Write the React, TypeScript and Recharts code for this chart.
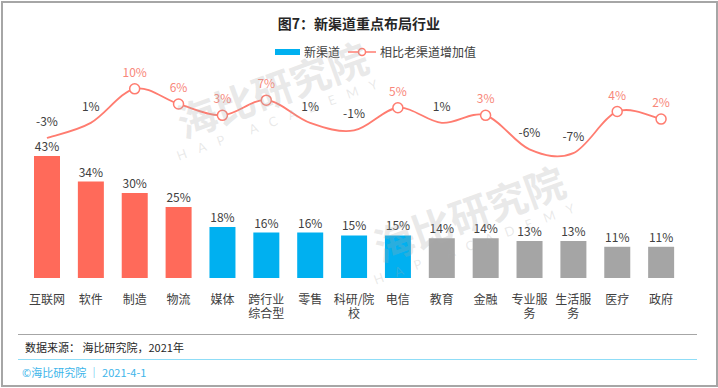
import React from 'react';
import { ComposedChart, Bar, Line, XAxis, YAxis, Cell, LabelList } from 'recharts';

const categories = ['互联网', '软件', '制造', '物流', '媒体', '跨行业综合型', '零售', '科研/院校', '电信', '教育', '金融', '专业服务', '生活服务', '医疗', '政府'];
const newChannel = [43, 34, 30, 25, 18, 16, 16, 15, 15, 14, 14, 13, 13, 11, 11];
const increase = [-3, 1, 10, 6, 3, 7, 1, -1, 5, 1, 3, -6, -7, 4, 2];
// 0 = 重点, 1 = 次重点, 2 = 其他
const tier = [0, 0, 0, 0, 1, 1, 1, 1, 1, 2, 2, 2, 2, 2, 2];

const tierColors = ['#FF6A5A', '#00B0F0', '#A5A5A5'];
const lineColor = '#FF7C70';
const labelRed = '#F8877A';
const textColor = '#404040';
const FONT = '"Noto Sans CJK SC", "Noto Sans", sans-serif';

const data = categories.map((name, i) => ({ name, value: newChannel[i], delta: increase[i] }));

// Excel 风格平滑曲线 (Catmull-Rom)
const excelSmooth = (context: any) => {
  let pts: number[][] = [];
  return {
    areaStart() {},
    areaEnd() {},
    lineStart() { pts = []; },
    point(x: number, y: number) { pts.push([+x, +y]); },
    lineEnd() {
      const n = pts.length;
      if (!n) return;
      context.moveTo(pts[0][0], pts[0][1]);
      for (let i = 0; i < n - 1; i++) {
        const p0 = pts[i - 1] || pts[i];
        const p1 = pts[i];
        const p2 = pts[i + 1];
        const p3 = pts[i + 2] || p2;
        context.bezierCurveTo(
          p1[0] + (p2[0] - p0[0]) / 6, p1[1] + (p2[1] - p0[1]) / 6,
          p2[0] - (p3[0] - p1[0]) / 6, p2[1] - (p3[1] - p1[1]) / 6,
          p2[0], p2[1]
        );
      }
    },
  };
};

const wrapLabel = (s: string, max = 42) => {
  const lines: string[] = [];
  let cur = '';
  let w = 0;
  for (const ch of s) {
    const cw = /[\u4e00-\u9fff]/.test(ch) ? 12 : 4;
    if (w + cw > max && cur) {
      lines.push(cur);
      cur = '';
      w = 0;
    }
    cur += ch;
    w += cw;
  }
  if (cur) lines.push(cur);
  return lines;
};

const CategoryTick = ({ x, y, payload }: any) => {
  const lines = wrapLabel(payload.value);
  return (
    <g>
      {lines.map((l, i) => (
        <text key={i} x={x} y={y + 18 + i * 14} textAnchor="middle" fontSize={12} fill={textColor} fontFamily={FONT}>
          {l}
        </text>
      ))}
    </g>
  );
};

const renderDot = (props: any) => {
  const { cx, cy, index } = props;
  if (increase[index] < 2) return <g key={`d${index}`} />;
  return <circle key={`d${index}`} cx={cx} cy={cy} r={5} fill="#fff" stroke={lineColor} strokeWidth={1.5} />;
};

const renderLineLabel = (props: any) => {
  const { x, y, value, index } = props;
  return (
    <text key={`l${index}`} x={x} y={y - 12} textAnchor="middle" fontSize={12} fontFamily={FONT}
      fill={value >= 2 ? labelRed : textColor}>
      {value}%
    </text>
  );
};

const Watermark = ({ left, top }: { left: number; top: number }) => (
  <div style={{
    position: 'absolute', left, top, width: 230, transform: 'rotate(-20deg)', transformOrigin: 'center',
    textAlign: 'center', color: 'rgba(170,170,170,0.26)', pointerEvents: 'none',
  }}>
    <div style={{ fontSize: 40, fontWeight: 700, lineHeight: '44px' }}>海比研究院</div>
    <div style={{ fontSize: 13, letterSpacing: 12, lineHeight: '18px', fontFamily: 'Lato, sans-serif' }}>HAP ACADEMY</div>
  </div>
);

export default function App() {
  return (
    <div style={{ position: 'absolute', left: 0, top: 0, width: 718, height: 388, background: '#fff', fontFamily: FONT, overflow: 'hidden' }}>
      <div style={{ position: 'absolute', left: 1, top: 1, width: 713, height: 382, border: '2px solid #A6A6A6' }} />
      <div style={{ position: 'absolute', left: 0, top: 13, width: 718, textAlign: 'center', fontSize: 14, fontWeight: 700, color: '#262626' }}>
        图7：新渠道重点布局行业
      </div>
      <div style={{ position: 'absolute', left: 275, top: 44, display: 'flex', alignItems: 'center', fontSize: 12, color: textColor, lineHeight: '16px' }}>
        <span style={{ display: 'inline-block', width: 25, height: 6, background: '#00B0F0', marginRight: 4 }} />
        <span>新渠道</span>
        <svg width={28} height={12} style={{ marginLeft: 8, marginRight: 4 }}>
          <line x1={0} y1={6} x2={28} y2={6} stroke={lineColor} strokeWidth={1.5} />
          <circle cx={14} cy={6} r={3.5} fill="#fff" stroke={lineColor} strokeWidth={1.5} />
        </svg>
        <span>相比老渠道增加值</span>
      </div>
      <div style={{ position: 'absolute', left: 0, top: 0 }}>
        <ComposedChart width={718} height={388} data={data} margin={{ top: 51, right: 35, bottom: 80, left: 25 }}>
          <XAxis dataKey="name" interval={0} axisLine={false} tickLine={false} tick={<CategoryTick />} />
          <YAxis yAxisId="bar" domain={[0, 80]} hide />
          <YAxis yAxisId="line" orientation="right" domain={[-40, 20]} hide />
          <Bar yAxisId="bar" dataKey="value" barSize={26} isAnimationActive={false}>
            {data.map((d, i) => (
              <Cell key={d.name} fill={tierColors[tier[i]]} />
            ))}
            <LabelList dataKey="value" position="top" offset={5} fill={textColor} fontSize={12} fontFamily={FONT}
              formatter={(v: any) => `${v}%`} />
          </Bar>
          <Line yAxisId="line" dataKey="delta" type={excelSmooth as any} stroke={lineColor} strokeWidth={1.8}
            dot={renderDot} activeDot={false} label={renderLineLabel} isAnimationActive={false} />
        </ComposedChart>
      </div>
      <Watermark left={160} top={66} />
      <Watermark left={357} top={190} />
      <div style={{ position: 'absolute', left: 18, top: 334, width: 679, height: 1, background: '#A6A6A6' }} />
      <div style={{ position: 'absolute', left: 25, top: 339, fontSize: 11, color: '#262626', lineHeight: '16px' }}>
        数据来源： 海比研究院，2021年
      </div>
      <div style={{ position: 'absolute', left: 18, top: 359, width: 679, height: 1, background: '#8FDDF7' }} />
      <div style={{ position: 'absolute', left: 22, top: 364, fontSize: 11, color: '#3DB5EA', lineHeight: '16px' }}>
        ©海比研究院 ｜ 2021-4-1
      </div>
    </div>
  );
}
